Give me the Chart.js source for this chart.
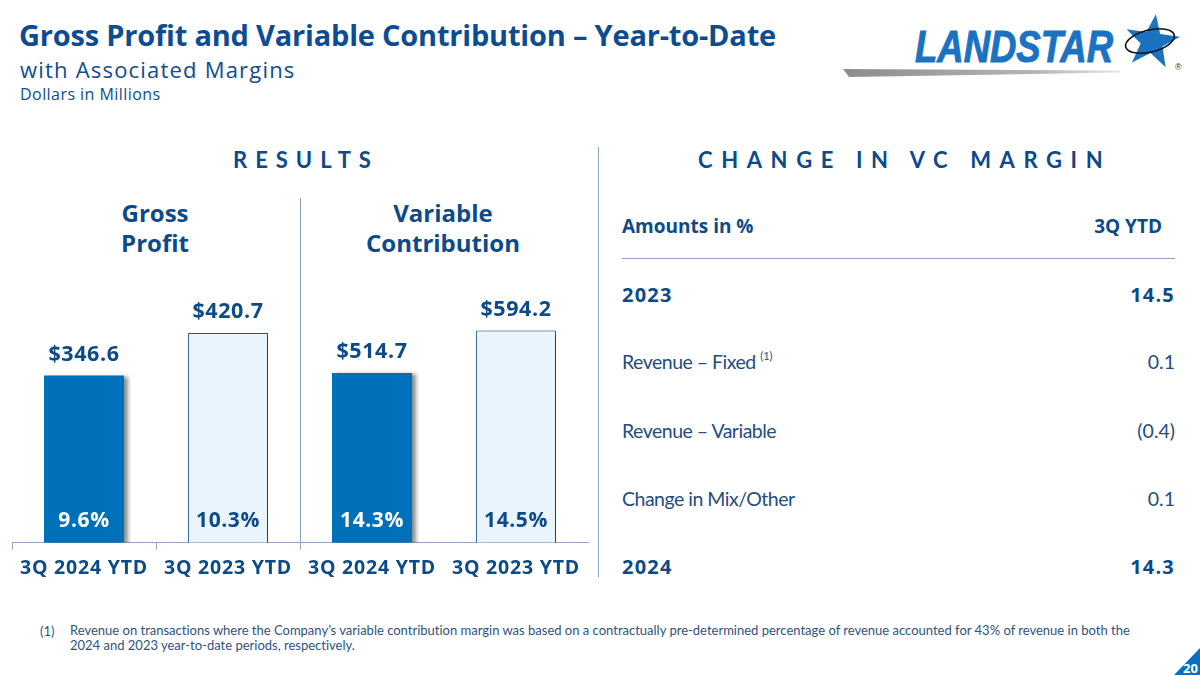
<!DOCTYPE html>
<html>
<head>
<meta charset="utf-8">
<script src="https://cdn.jsdelivr.net/npm/chart.js@4.4.1/dist/chart.umd.min.js"></script>
<style>
  html,body{margin:0;padding:0;background:#fff;}
  body{width:1200px;height:675px;position:relative;overflow:hidden;font-family:"Open Sans",Lato,sans-serif;color:#0c4a8a;font-variant-ligatures:none;font-feature-settings:"liga" 0;}
  .abs{position:absolute;white-space:nowrap;}
  .b{font-weight:700;}
  .lato{font-family:Lato,"Open Sans",sans-serif;}
</style>
</head>
<body>
<script>
// ---------- DATA ----------
const categories = ['3Q 2024 YTD', '3Q 2023 YTD', '3Q 2024 YTD', '3Q 2023 YTD'];
const grossProfit = [346.6, 420.7, null, null];
const variableContribution = [null, null, 514.7, 594.2];
const marginLabels = ['9.6%', '10.3%', '14.3%', '14.5%'];
const groupTitles = [['Gross', 'Profit'], ['Variable', 'Contribution']];
const vcRowLabels = ['2023', 'Revenue – Fixed', 'Revenue – Variable', 'Change in Mix/Other', '2024'];
const vcRowValues = ['14.5', '0.1', '(0.4)', '0.1', '14.3'];
const vcRowBold = [true, false, false, false, true];
</script>

<!-- Header -->
<div class="abs b" style="left:19px;top:15px;font-size:29px;color:#0e4c92;letter-spacing:-0.2px;">Gross Profit and Variable Contribution – Year-to-Date</div>
<div class="abs" style="left:20px;top:54px;font-size:22px;color:#0e4c92;letter-spacing:1.2px;">with Associated Margins</div>
<div class="abs" style="left:20px;top:83px;font-size:16px;color:#0e4c92;letter-spacing:0.45px;">Dollars in Millions</div>

<!-- Logo -->
<svg class="abs" style="left:830px;top:5px;" width="370" height="80" viewBox="830 5 370 80">
  <defs>
    <linearGradient id="sw" x1="0" x2="1" y1="0" y2="0">
      <stop offset="0" stop-color="#8c8c8c"/>
      <stop offset="0.7" stop-color="#b5b5b5"/>
      <stop offset="1" stop-color="#e6e6e6"/>
    </linearGradient>
  </defs>
  <polygon points="843,69 1120,70.5 1120,72.5 849,77" fill="url(#sw)"/>
  <text x="915" y="62" font-family="Liberation Sans, Arial, sans-serif" font-weight="700" font-style="italic" font-size="44" fill="#1a72c0" stroke="#1a72c0" stroke-width="1" textLength="198" lengthAdjust="spacingAndGlyphs">LANDSTAR</text>
  <g transform="translate(1152,42) rotate(8)">
    <polygon fill="#1a72c0" points="0,-28 7,-9 27,-9 11,3 17,23 0,11 -17,23 -11,3 -27,-9 -7,-9"/>
  </g>
  <ellipse cx="1150" cy="41" rx="25" ry="11" transform="rotate(-14 1150 41)" fill="none" stroke="#111" stroke-width="1.6"/>
  <text x="1175" y="70" font-family="Liberation Sans, Arial" font-size="9" fill="#333">®</text>
</svg>

<!-- Section titles -->
<div class="abs b lato" style="left:233px;top:146px;font-size:22px;letter-spacing:8px;">RESULTS</div>
<div class="abs b lato" style="left:698px;top:146px;font-size:22px;letter-spacing:8.6px;">CHANGE IN VC MARGIN</div>

<!-- Dividers -->
<div class="abs" style="left:598px;top:147px;width:1px;height:430px;background:#8ea3bf;"></div>
<div class="abs" style="left:300px;top:198px;width:1px;height:345px;background:#8ea3bf;"></div>

<!-- Group titles -->
<div id="gt"></div>

<!-- Chart -->
<div class="abs" style="left:0px;top:280px;width:600px;height:310px;">
  <canvas id="c"></canvas>
</div>

<!-- Right table -->
<div class="abs b" style="left:622px;top:213px;font-size:19px;line-height:26px;">Amounts in %</div>
<div class="abs b" style="left:1062px;top:213px;width:100px;text-align:right;font-size:19px;line-height:26px;">3Q YTD</div>
<div class="abs" style="left:622px;top:258px;width:553px;height:1px;background:#8ea3bf;"></div>
<div id="tbl"></div>

<!-- Footnote -->
<div class="abs lato" style="left:40px;top:623px;font-size:13px;color:#2f5280;">(1)</div>
<div class="abs lato" style="left:70px;top:623px;font-size:13px;line-height:15px;color:#2f5280;white-space:normal;width:1062px;">Revenue on transactions where the Company’s variable contribution margin was based on a contractually pre-determined percentage of revenue accounted for 43% of revenue in both the 2024 and 2023 year-to-date periods, respectively.</div>

<!-- Page number -->
<svg class="abs" style="left:1160px;top:640px;" width="40" height="35" viewBox="1160 640 40 35">
  <polygon points="1174,675 1200,648 1200,675" fill="#0a6fbf"/>
  <text x="1183" y="673" font-family="Open Sans" font-weight="700" font-size="13" fill="#fff">20</text>
</svg>

<script>
(function(){
  const gt = document.getElementById('gt');
  const centers = [155, 443];
  groupTitles.forEach((lines, i) => {
    const d = document.createElement('div');
    d.className = 'abs b';
    d.style.cssText = `left:${centers[i]-120}px;top:198px;width:240px;text-align:center;font-size:24px;line-height:30px;white-space:normal;`;
    d.innerHTML = lines.join('<br>');
    gt.appendChild(d);
  });
  const tbl = document.getElementById('tbl');
  const rowY = [295, 362, 431, 499, 567];
  vcRowLabels.forEach((lab, i) => {
    const bold = vcRowBold[i];
    const common = `top:${rowY[i]-14}px;line-height:28px;color:${bold ? '#0c4a8a' : '#234d7f'};font-size:${bold ? 20 : 19.5}px;`;
    const l = document.createElement('div');
    l.className = 'abs' + (bold ? ' b' : ' lato');
    l.style.cssText = `left:622px;${common}${bold ? 'letter-spacing:1.2px;' : 'letter-spacing:-0.5px;'}`;
    l.innerHTML = lab + (i === 1 ? ' <span style="font-size:11px;position:relative;top:-9px;letter-spacing:0;">(1)</span>' : '');
    tbl.appendChild(l);
    const v = document.createElement('div');
    v.className = 'abs' + (bold ? ' b' : ' lato');
    v.style.cssText = `left:1075px;width:100px;text-align:right;${common}${bold ? 'letter-spacing:1.2px;margin-right:-1.2px;' : ''}`;
    v.textContent = vcRowValues[i];
    tbl.appendChild(v);
  });
})();

const NAVY = '#0c4a8a';
const DARK = '#0070bb';
const LIGHT = '#eaf4fc';
const AXIS = '#8ea3bf';
const FONT = '"Open Sans"';

const spacingPlugin = {
  id: 'letterSpacing',
  beforeInit(chart) { chart.ctx.letterSpacing = '0.8px'; },
  beforeUpdate(chart) { chart.ctx.letterSpacing = '0.8px'; },
  beforeDraw(chart) { chart.ctx.letterSpacing = '0.8px'; }
};

const shadowPlugin = {
  id: 'barShadow',
  beforeDatasetDraw(chart) {
    const ctx = chart.ctx;
    ctx.save();
    ctx.shadowColor = 'rgba(0,0,0,0.45)';
    ctx.shadowBlur = 4;
    ctx.shadowOffsetX = 4;
    ctx.shadowOffsetY = 1;
  },
  afterDatasetDraw(chart) { chart.ctx.restore(); }
};

const labelPlugin = {
  id: 'barLabels',
  afterDatasetsDraw(chart) {
    const ctx = chart.ctx;
    ctx.save();
    ctx.textAlign = 'center';
    ctx.textBaseline = 'middle';
    ctx.letterSpacing = '0.6px';
    chart.data.datasets.forEach((ds, di) => {
      const meta = chart.getDatasetMeta(di);
      meta.data.forEach((bar, i) => {
        const v = ds.data[i];
        if (v === null || v === undefined) return;
        ctx.font = '700 21.5px ' + FONT;
        ctx.fillStyle = NAVY;
        ctx.fillText('$' + v.toFixed(1), bar.x, bar.y - 21);
        ctx.font = '700 21px ' + FONT;
        ctx.fillStyle = (i % 2 === 0) ? '#ffffff' : NAVY;
        ctx.fillText(marginLabels[i], bar.x, chart.chartArea.bottom - 22);
      });
    });
    ctx.restore();
  }
};

function build() {
  Chart.defaults.font.family = FONT;
  new Chart(document.getElementById('c'), {
    type: 'bar',
    data: {
      labels: categories,
      datasets: [
        {
          label: 'Gross Profit',
          data: grossProfit,
          yAxisID: 'y',
          backgroundColor: [DARK, LIGHT, DARK, LIGHT],
          borderColor: [DARK, '#2d5f94', DARK, '#2d5f94'],
          borderWidth: [0, 1, 0, 1],
          borderSkipped: 'bottom'
        },
        {
          label: 'Variable Contribution',
          data: variableContribution,
          yAxisID: 'y2',
          backgroundColor: [DARK, LIGHT, DARK, LIGHT],
          borderColor: [DARK, '#2d5f94', DARK, '#2d5f94'],
          borderWidth: [0, 1, 0, 1],
          borderSkipped: 'bottom'
        }
      ]
    },
    options: {
      responsive: true,
      maintainAspectRatio: false,
      animation: false,
      devicePixelRatio: 1,
      skipNull: true,
      categoryPercentage: 1,
      barPercentage: 0.556,
      layout: { padding: { left: 12, right: 12, top: 20, bottom: 3 } },
      plugins: { legend: { display: false }, tooltip: { enabled: false } },
      scales: {
        x: {
          grid: {
            display: true,
            drawOnChartArea: false,
            drawTicks: true,
            tickLength: 7,
            offset: true,
            tickColor: (c) => (c.index <= 2 ? AXIS : 'rgba(0,0,0,0)'),
            color: AXIS
          },
          border: { display: true, color: AXIS, width: 1 },
          ticks: { color: NAVY, font: { size: 19.5, weight: '700' }, padding: 7, maxRotation: 0, autoSkip: false }
        },
        y: { display: false, min: 55.3, max: 478.4 },
        y2: { display: false, min: 196.5, max: 651.4 }
      }
    },
    plugins: [spacingPlugin, shadowPlugin, labelPlugin]
  });
}

Promise.all([
  document.fonts.load('700 19px "Open Sans"'),
  document.fonts.load('400 19px "Open Sans"'),
  document.fonts.load('700 19px Lato'),
  document.fonts.load('400 19px Lato')
]).then(build, build);
</script>
</body>
</html>
